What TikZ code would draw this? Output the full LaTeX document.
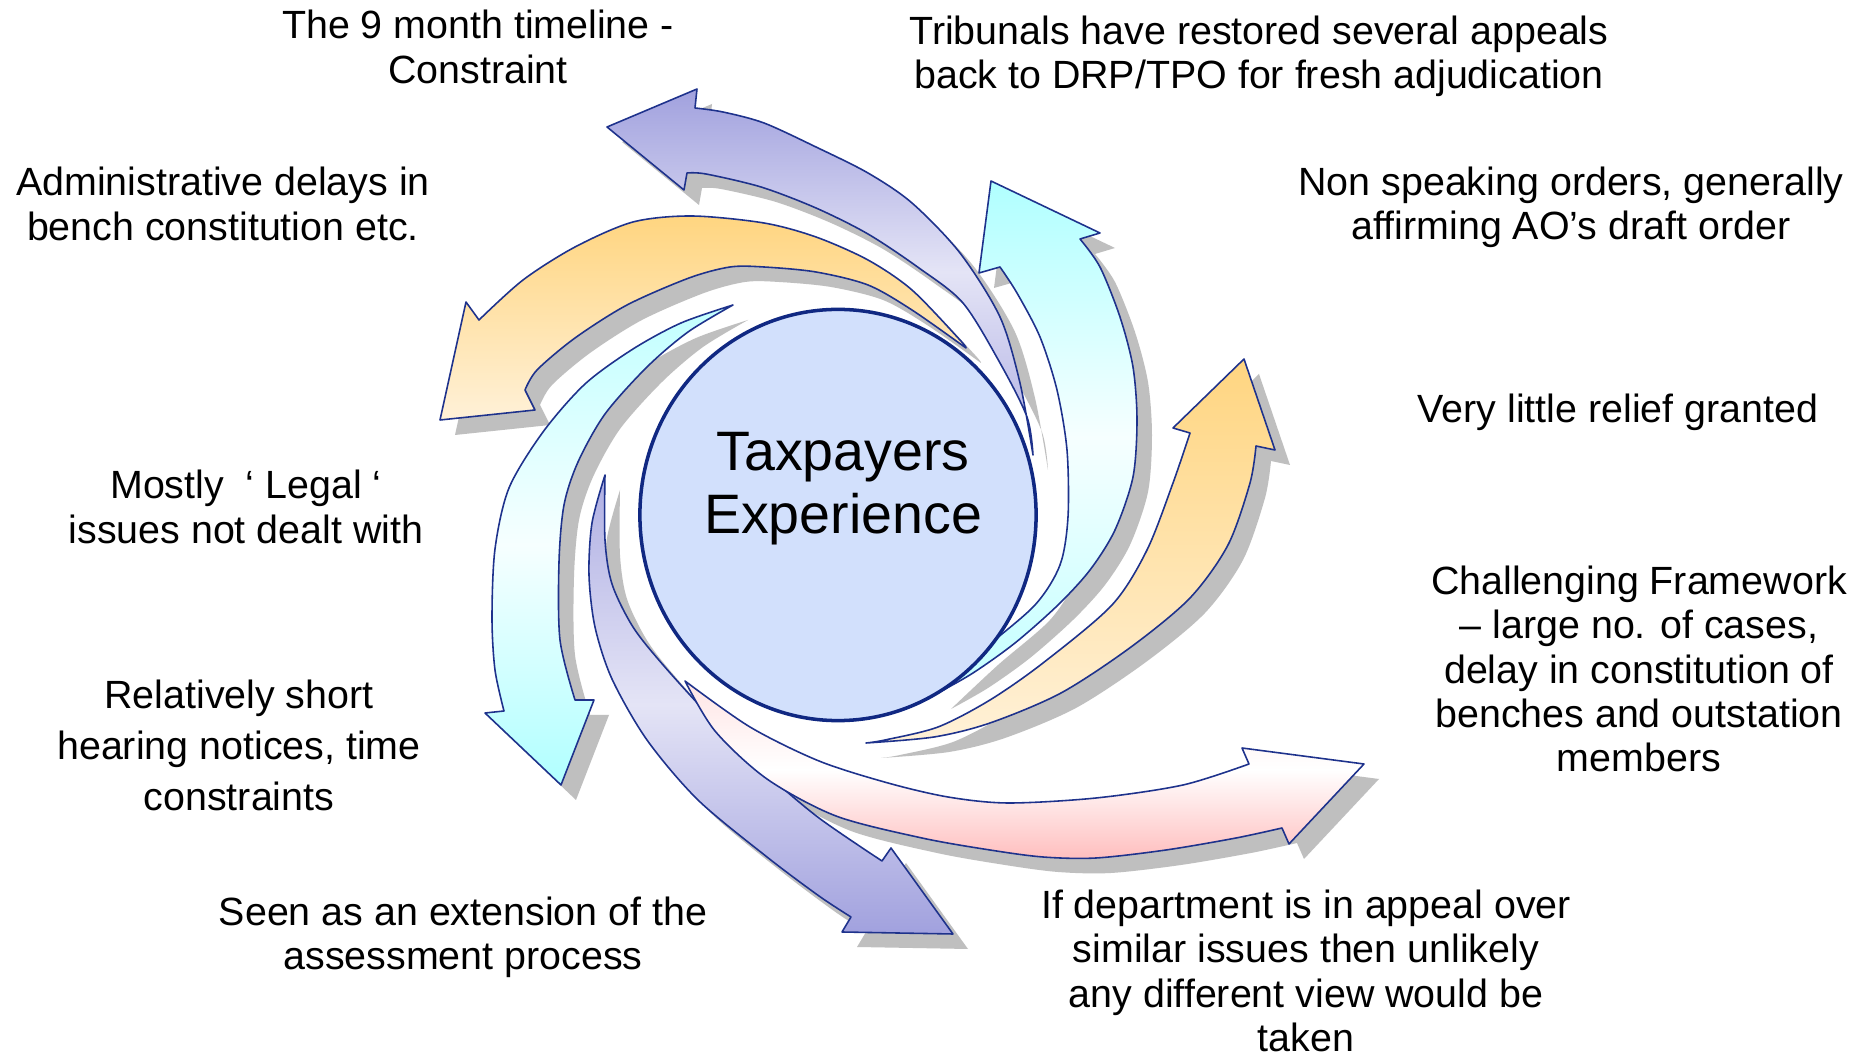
\documentclass[tikz,border=0pt]{standalone}
\usepackage{fontspec}
\setmainfont{Liberation Sans}
\usetikzlibrary{shapes.geometric}

\definecolor{hubfill}{RGB}{210,224,252}
\definecolor{hubline}{RGB}{16,40,130}
\definecolor{arrowline}{RGB}{30,50,140}
\definecolor{shadowgray}{RGB}{191,191,191}
\definecolor{lavender}{RGB}{161,161,222}
\definecolor{lavenderpale}{RGB}{228,228,246}
\definecolor{apricot}{RGB}{255,213,128}
\definecolor{apricotpale}{RGB}{255,241,216}
\definecolor{aqua}{RGB}{176,255,255}
\definecolor{aquapale}{RGB}{246,255,255}
\definecolor{rose}{RGB}{255,190,190}
\definecolor{rosepale}{RGB}{255,228,228}

% outlines of the swirling arrows (pixel units)
\newcommand{\purpletop}{(607,127) -- (697,89)
  -- plot[smooth] coordinates {(695,108) (723,112) (764,123) (816,147) (868,173) (912,203) (960,253) (1000,317) (1020,383) (1033,455)}
  -- plot[smooth] coordinates {(1033,455) (1027,417) (1000,363) (963,303) (919,268) (868,234) (816,208) (761,187) (706,174) (687,173)}
  -- (684,190) -- cycle}
\newcommand{\orangetop}{(440,420) -- (466,302)
  -- plot[smooth] coordinates {(479,320) (523,280) (575,247) (633,222) (692,216) (764,223) (816,237) (868,260) (912,290) (960,340) (966,348)}
  -- plot[smooth] coordinates {(966,348) (912,310) (868,285) (816,272) (764,267) (730,267) (689,278) (627,305) (575,338) (537,370) (525,390)}
  -- (535,410) -- cycle}
\newcommand{\cyanleft}{plot[smooth] coordinates {(733,305) (681,323) (633,349) (585,384) (543,432) (509,488) (495,549) (492,618) (495,670) (504,711)}
  -- (485,713) -- (561,785) -- (594,700)
  -- plot[smooth] coordinates {(575,700) (560,640) (559,562) (564,505) (578,462) (605,414) (647,367) (688,332) (733,305)}
  -- cycle}
\newcommand{\purplebottom}{plot[smooth] coordinates {(605,475) (592,523) (589,575) (595,627) (612,679) (647,740) (698,800) (767,857) (819,896) (851,917)}
  -- (842,932) -- (953,934) -- (891,848)
  -- plot[smooth] coordinates {(882,861) (819,818) (767,774) (715,722) (664,666) (633,627) (612,584) (605,540) (605,475)}
  -- cycle}
\newcommand{\pinkbottom}{plot[smooth] coordinates {(685,681) (750,727) (819,761) (888,783) (948,797) (1008,803) (1096,798) (1183,785) (1249,764)}
  -- (1242,748) -- (1364,764) -- (1289,844)
  -- plot[smooth] coordinates {(1282,828) (1236,838) (1166,850) (1096,858) (1043,857) (990,850) (922,838) (836,816) (767,779) (715,731) (685,681)}
  -- cycle}
\newcommand{\orangeright}{(1244,359) -- (1173,428)
  -- plot[smooth] coordinates {(1190,433) (1173,483) (1147,550) (1112,605) (1043,663) (990,700) (938,727) (885,740) (866,743)}
  -- plot[smooth] coordinates {(866,743) (934,737) (990,723) (1061,693) (1131,647) (1190,598) (1228,545) (1250,483) (1256,446)}
  -- (1275,450) -- cycle}
\newcommand{\cyanright}{(991,181) -- (979,273)
  -- plot[smooth] coordinates {(1000,267) (1017,293) (1040,337) (1057,390) (1067,450) (1068,517) (1060,565) (1035,605) (983,650) (936,694)}
  -- plot[smooth] coordinates {(936,694) (973,673) (1015,643) (1058,605) (1090,570) (1115,530) (1133,477) (1137,420) (1133,367) (1120,317) (1100,267) (1080,239)}
  -- (1100,233) -- cycle}

\begin{document}
\begin{tikzpicture}[
            x = 0.01cm, % one pixel of the layout
            y = -0.01cm, % y runs downwards
            line join = round,
        ]
\tikzstyle{swirl}=[
            draw = arrowline,
            line width = 0.45pt
        ]
\tikzstyle{drop}=[
            fill = shadowgray,
            shift = {(15,15)}
        ]
\tikzstyle{hub}=[
            shape = ellipse,
            draw = hubline,
            line width = 1pt,
            fill = hubfill,
            minimum width = 3.96cm,
            minimum height = 4.11cm,
            inner sep = 0pt
        ]
\tikzstyle{note}=[
            align = center,
            inner sep = 0pt,
            font = \fontsize{11.2pt}{12.6pt}\selectfont
        ]
\path[use as bounding box, fill = white] (0,0) rectangle (1868,1055);

% shadows first
\fill[drop] \purpletop;
\fill[drop] \orangetop;
\fill[drop] \cyanleft;
\fill[drop] \purplebottom;
\fill[drop] \pinkbottom;
\fill[drop] \orangeright;
\fill[drop] \cyanright;

% the arrows
\path[swirl, top color = lavender, bottom color = lavender!80!lavenderpale, middle color = lavenderpale] \purpletop;
\path[swirl, top color = apricot, bottom color = apricotpale] \orangetop;
\path[swirl, top color = aqua!75!aquapale, bottom color = aqua, middle color = aquapale] \cyanleft;
\path[swirl, top color = lavender!80!lavenderpale, bottom color = lavender, middle color = lavenderpale] \purplebottom;
\path[swirl, top color = rosepale, bottom color = rose, middle color = white] \pinkbottom;
\path[swirl, top color = apricot, bottom color = apricotpale] \orangeright;
\path[swirl, top color = aqua, bottom color = aqua!75!aquapale, middle color = aquapale] \cyanright;

\node[hub] (hub) at (838,515) {};
\node[align = center, inner sep = 0pt, font = \fontsize{15.8pt}{17.9pt}\selectfont] (taxpayers) at (843,489) {Taxpayers\\Experience};

\node[note] (timeline) at (478,47) {The 9 month timeline -\\Constraint};
\node[note] (restored) at (1259,56) {Tribunals have restored several appeals\\back to DRP/TPO for fresh adjudication};
\node[note] (admin) at (223,204) {Administrative delays in\\bench constitution etc.};
\node[note] (nonspeaking) at (1571,207) {Non speaking orders, generally\\affirming AO’s draft order};
\node[note] (relief) at (1618,412) {Very little relief granted};
\node[note] (legal) at (246,507) {Mostly\ \ ‘ Legal ‘\\issues not dealt with};
\node[note] (framework) at (1639,669) {Challenging Framework\\– large no. of cases,\\delay in constitution of\\benches and outstation\\members};
\node[note, font = \fontsize{11.2pt}{14.5pt}\selectfont] (hearing) at (239,745) {Relatively short\\hearing notices, time\\constraints};
\node[note] (extension) at (463,937) {Seen as an extension of the\\assessment process};
\node[note] (department) at (1306,971) {If department is in appeal over\\similar issues then unlikely\\any different view would be\\taken};
\end{tikzpicture}
\end{document}
